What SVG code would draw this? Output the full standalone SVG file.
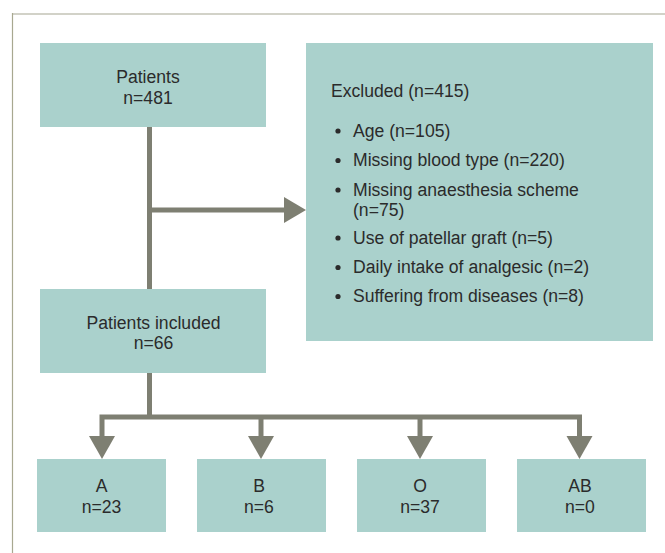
<svg xmlns="http://www.w3.org/2000/svg" width="665" height="553" viewBox="0 0 665 553">
<style>
.box{fill:#aad1cc}
.t{font-family:"Liberation Sans",Arial,sans-serif;font-size:17.6px;fill:#2b2b2b}
.c{text-anchor:middle}
.ln{stroke:#7e7f72;stroke-width:5;fill:none}
.ah{fill:#7e7f72}
</style>
<rect x="0" y="0" width="665" height="553" fill="#ffffff"/>
<g id="frame">
<line x1="12" y1="14" x2="665" y2="14" stroke="#d2d2c8" stroke-width="2"/>
<line x1="12.5" y1="13" x2="12.5" y2="553" stroke="#a8a890" stroke-width="1.2"/>
</g>
<g id="connectors">
<path class="ln" d="M149.5 127 V289"/>
<path class="ln" d="M149.5 210 H286"/>
<polygon class="ah" points="284,197 306,210 284,223"/>
<path class="ln" d="M149.5 372 V417"/>
<path class="ln" d="M102 436 V417 H579.5 V436"/>
<path class="ln" d="M261 417 V436"/>
<path class="ln" d="M420 417 V436"/>
<polygon class="ah" points="89,436 115,436 102,459"/>
<polygon class="ah" points="248,436 274,436 261,459"/>
<polygon class="ah" points="407,436 433,436 420,459"/>
<polygon class="ah" points="566.5,436 592.5,436 579.5,459"/>
</g>
<g id="patients">
<rect class="box" x="40" y="43" width="226" height="84"/>
<text class="t c" x="148" y="83">Patients</text>
<text class="t c" x="148" y="104">n=481</text>
</g>
<g id="excluded">
<rect class="box" x="306" y="43" width="347" height="298"/>
<text class="t" x="331" y="97">Excluded (n=415)</text>
<g fill="#2b2b2b">
<circle cx="338" cy="131" r="2.6"/>
<circle cx="338" cy="160.5" r="2.6"/>
<circle cx="338" cy="190" r="2.6"/>
<circle cx="338" cy="238" r="2.6"/>
<circle cx="338" cy="267.5" r="2.6"/>
<circle cx="338" cy="296.5" r="2.6"/>
</g>
<text class="t" x="353" y="137">Age (n=105)</text>
<text class="t" x="353" y="166">Missing blood type (n=220)</text>
<text class="t" x="353" y="195.5">Missing anaesthesia scheme</text>
<text class="t" x="353" y="215.5">(n=75)</text>
<text class="t" x="353" y="243.5">Use of patellar graft (n=5)</text>
<text class="t" x="353" y="273">Daily intake of analgesic (n=2)</text>
<text class="t" x="353" y="302">Suffering from diseases (n=8)</text>
</g>
<g id="included">
<rect class="box" x="40" y="289" width="226" height="84"/>
<text class="t c" x="153.5" y="328.5">Patients included</text>
<text class="t c" x="153.5" y="349">n=66</text>
</g>
<g id="A">
<rect class="box" x="37" y="459" width="129" height="73"/>
<text class="t c" x="101.5" y="492">A</text>
<text class="t c" x="101.5" y="512.5">n=23</text>
</g>
<g id="B">
<rect class="box" x="197" y="459" width="129" height="73"/>
<text class="t c" x="259" y="492">B</text>
<text class="t c" x="259" y="512.5">n=6</text>
</g>
<g id="O">
<rect class="box" x="357" y="459" width="129" height="73"/>
<text class="t c" x="420" y="492">O</text>
<text class="t c" x="420" y="512.5">n=37</text>
</g>
<g id="AB">
<rect class="box" x="517" y="459" width="129" height="73"/>
<text class="t c" x="580" y="492">AB</text>
<text class="t c" x="580" y="512.5">n=0</text>
</g>
</svg>
